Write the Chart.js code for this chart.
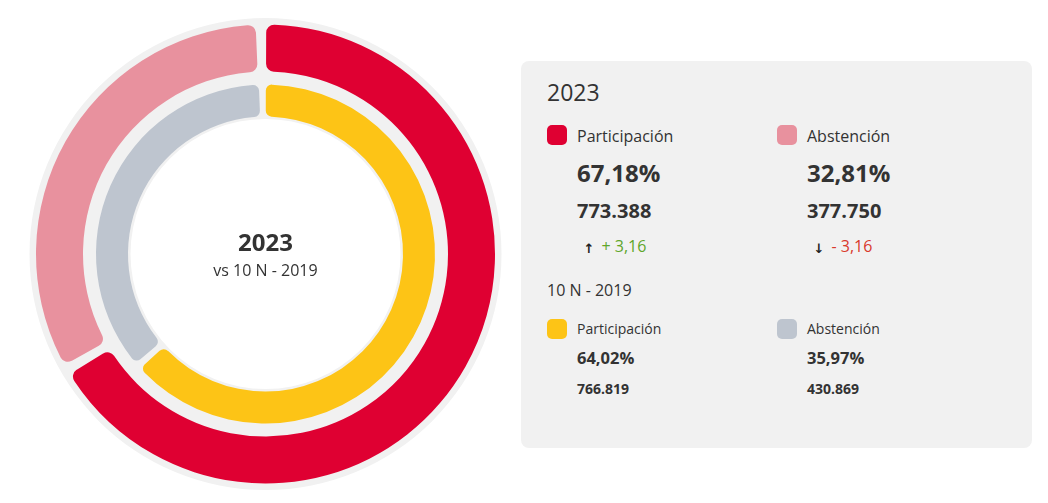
<!DOCTYPE html>
<html lang="es">
<head>
<meta charset="utf-8">
<script src="https://cdn.jsdelivr.net/npm/chart.js@4/dist/chart.umd.min.js"></script>
<style>
  html, body { margin:0; padding:0; background:#fff; overflow:hidden; }
  body { width:1048px; height:503px; position:relative; font-family:"Open Sans", "Noto Sans", sans-serif; color:#333; }
  #chartWrap { position:absolute; left:15px; top:14px; width:501px; height:480px; }
  .t { position:absolute; white-space:nowrap; line-height:1; }
  .panel { position:absolute; left:521px; top:61px; width:511px; height:387px; background:#f1f1f1; border-radius:8px; }
  .sq { position:absolute; width:20px; height:20px; border-radius:5px; }
  .arrow { font-family:"DejaVu Sans", sans-serif; font-size:13px; font-weight:bold; color:#222; }
</style>
</head>
<body>
<div id="chartWrap"><canvas id="c"></canvas></div>
<div class="t" id="centerYear" style="left:165.5px; width:200px; text-align:center; top:230.2px; font-size:24px; font-weight:700;"></div>
<div class="t" id="centerSub" style="left:165.5px; width:200px; text-align:center; top:261.8px; font-size:16px;"></div>
<div class="panel"></div>
<div id="legend"></div>
<script>
// ---- data ----
const categories = ['Participación', 'Abstención'];
const currentLabel = '2023';
const previousLabel = '10 N - 2019';
const pct2023 = [67.18, 32.81];
const pct2019 = [64.02, 35.97];
const votes2023 = [773388, 377750];
const votes2019 = [766819, 430869];
const change = [3.16, -3.16];

// ---- styles ----
const colors2023 = ['#df0032', '#e8919e'];
const colors2019 = ['#fdc416', '#bec5cf'];
const ringBg = '#f1f1f1';

function fmtPct(v) { return v.toFixed(2).replace('.', ',') + '%'; }
function fmtInt(v) { return String(Math.round(v)).replace(/\B(?=(\d{3})+(?!\d))/g, '.'); }
function fmtChange(v) { return (v >= 0 ? '+ ' : '- ') + Math.abs(v).toFixed(2).replace('.', ','); }

document.getElementById('centerYear').textContent = currentLabel;
document.getElementById('centerSub').textContent = 'vs ' + previousLabel;

const ringBackground = {
  id: 'ringBackground',
  beforeDatasetsDraw(chart) {
    const outer = chart.getDatasetMeta(0).data[0];
    const inner = chart.getDatasetMeta(2).data[0];
    if (!outer || !inner) return;
    const ctx = chart.ctx;
    ctx.save();
    ctx.beginPath();
    ctx.arc(outer.x, outer.y, outer.outerRadius + 9.5, 0, Math.PI * 2);
    ctx.arc(outer.x, outer.y, inner.innerRadius - 0.5, 0, Math.PI * 2, true);
    ctx.fillStyle = ringBg;
    ctx.fill();
    ctx.restore();
  }
};

new Chart(document.getElementById('c'), {
  type: 'doughnut',
  data: {
    labels: categories,
    datasets: [
      { label: currentLabel, data: pct2023, backgroundColor: colors2023, weight: 47, spacing: 6, rotation: -1.6, borderWidth: 0, borderRadius: 8 },
      { label: '', data: [1], backgroundColor: 'rgba(0,0,0,0)', weight: 12, borderWidth: 0, hoverBackgroundColor: 'rgba(0,0,0,0)' },
      { label: previousLabel, data: pct2019, backgroundColor: colors2019, weight: 32, spacing: 4, rotation: -1.4, borderWidth: 0, borderRadius: 6 }
    ]
  },
  options: {
    responsive: true,
    maintainAspectRatio: false,
    animation: false,
    radius: 226.5,
    cutout: '59.823%',
    layout: { padding: 0 },
    plugins: { legend: { display: false }, tooltip: { enabled: false } }
  },
  plugins: [ringBackground]
});

// ---- legend panel ----
const legend = document.getElementById('legend');
function add(html, style) {
  const d = document.createElement('div');
  d.className = 't';
  d.style.cssText = style;
  d.innerHTML = html;
  legend.appendChild(d);
  return d;
}
function sq(color, left, top) {
  const d = document.createElement('div');
  d.className = 'sq';
  d.style.cssText = `left:${left}px; top:${top}px; background:${color};`;
  legend.appendChild(d);
}
add(currentLabel, 'left:547px; top:81.3px; font-size:23px;');
add(previousLabel, 'left:547px; top:281.8px; font-size:16px;');
const colX = [547, 777];
categories.forEach((cat, i) => {
  const x = colX[i];
  sq(colors2023[i], x, 125);
  add(cat, `left:${x + 30}px; top:128.1px; font-size:16px;`);
  add(fmtPct(pct2023[i]), `left:${x + 30}px; top:161.4px; font-size:24px; font-weight:700;`);
  add(fmtInt(votes2023[i]), `left:${x + 30}px; top:200.5px; font-size:20px; font-weight:700;`);
  const up = change[i] >= 0;
  add(up ? '↑' : '↓', `left:${x + 36.5}px; top:241.5px;`).classList.add('arrow');
  add(fmtChange(change[i]), `left:${x + 54.5}px; top:238.1px; font-size:16px; color:${up ? '#5fa62b' : '#d9392c'};`);

  sq(colors2019[i], x, 319.3);
  add(cat, `left:${x + 30}px; top:321.6px; font-size:14px;`);
  add(fmtPct(pct2019[i]), `left:${x + 30}px; top:349.6px; font-size:16.5px; font-weight:700;`);
  add(fmtInt(votes2019[i]), `left:${x + 30}px; top:381.6px; font-size:14px; font-weight:700;`);
});
</script>
</body>
</html>
